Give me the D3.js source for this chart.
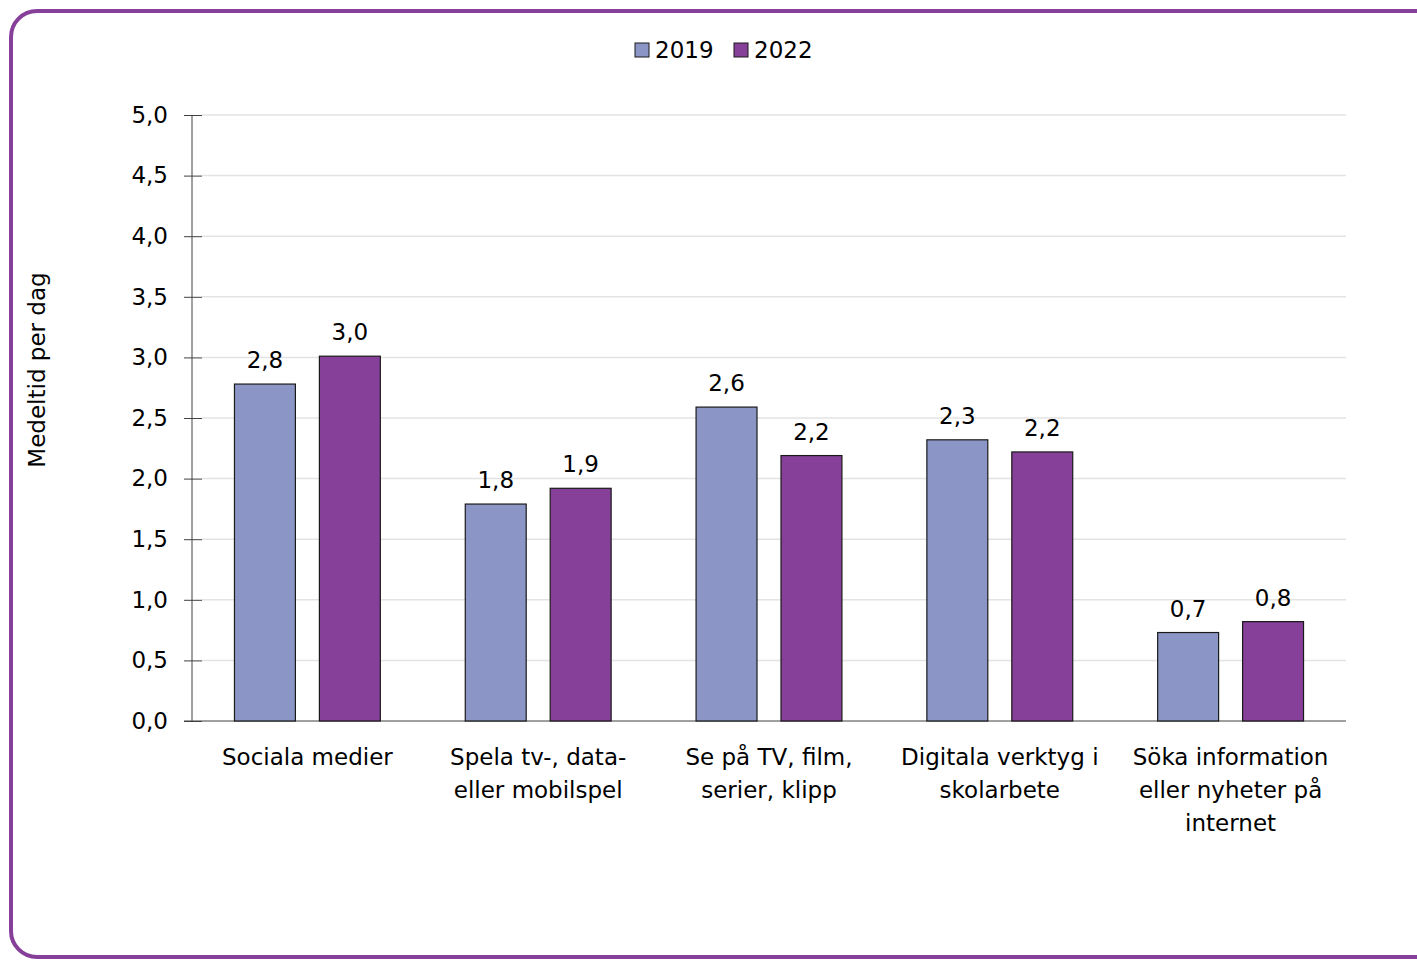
<!DOCTYPE html>
<html>
<head>
<meta charset="utf-8">
<script src="https://cdn.jsdelivr.net/npm/d3@7"></script>
<style>
	body { margin: 0; background: #fff; }
	svg { display: block; }
	svg text { font-family: "DejaVu Sans", Verdana, sans-serif; font-size: 23px; fill: #000; }
	.grid line { stroke: #e3e3e3; stroke-width: 1.5; }
	.axis path, .axis line { stroke: #404040; }
</style>
</head>
<body>
<svg id="chart"></svg>
<script>
const WIDTH = 1417
const HEIGHT = 961

const categories = [
	['Sociala medier'],
	['Spela tv-, data-', 'eller mobilspel'],
	['Se på TV, film,', 'serier, klipp'],
	['Digitala verktyg i', 'skolarbete'],
	['Söka information', 'eller nyheter på', 'internet'],
]
const series = ['2019', '2022']
const values2019 = [2.78, 1.79, 2.59, 2.32, 0.73]
const values2022 = [3.01, 1.92, 2.19, 2.22, 0.82]
const yTicks = [0, 0.5, 1, 1.5, 2, 2.5, 3, 3.5, 4, 4.5, 5]
const COLORS = ['#8b96c6', '#87409a']

const margin = { top: 115, right: 71, bottom: 240, left: 192 }
const chartWidth = WIDTH - margin.left - margin.right
const chartHeight = HEIGHT - margin.top - margin.bottom

const fmt = v => d3.format('.1f')(v).replace('.', ',')

function translate(x, y) {
	return `translate(${x}, ${y})`
}

const svg = d3.select('#chart')
	.attr('width', WIDTH)
	.attr('height', HEIGHT)

// frame
svg.append('rect')
	.attr('x', 11).attr('y', 11)
	.attr('width', WIDTH + 20).attr('height', 946)
	.attr('rx', 26)
	.style('fill', 'none')
	.style('stroke', '#87409a')
	.style('stroke-width', 4)

const g = svg.append('g').attr('transform', translate(margin.left, margin.top))

const scaleX = d3.scaleBand()
	.domain(d3.range(categories.length))
	.range([0, chartWidth])

const scaleY = d3.scaleLinear()
	.domain([0, 5])
	.range([chartHeight, 0])

const bw = scaleX.bandwidth()
const barW = bw * 0.264
const GAP = 24
const inner = d3.scaleBand()
	.domain(series)
	.range([bw / 2 - barW - GAP / 2, bw / 2 + barW + GAP / 2])
	.paddingInner(GAP / (barW + GAP))

// grid
g.append('g').attr('class', 'grid')
	.selectAll('line')
	.data(yTicks.slice(1))
	.join('line')
	.attr('x1', 10).attr('x2', chartWidth)
	.attr('y1', d => scaleY(d)).attr('y2', d => scaleY(d))

// y axis
const axisY = g.append('g').attr('class', 'axis axis--y')
	.call(d3.axisLeft(scaleY).tickValues(yTicks).tickFormat(fmt).tickSize(8).tickSizeOuter(0))
axisY.attr('font-size', null).attr('font-family', null)
axisY.selectAll('.tick line').attr('x2', 10).attr('x1', -8)
axisY.selectAll('text').attr('x', -24).attr('fill', null)
axisY.select('.domain').attr('d', `M0,0V${chartHeight}`)

// baseline
g.append('line')
	.attr('x1', -8).attr('x2', chartWidth)
	.attr('y1', chartHeight).attr('y2', chartHeight)
	.style('stroke', '#404040')

// bars
const data = categories.map((c, i) => ({
	index: i,
	vals: [
		{ key: '2019', value: values2019[i], color: COLORS[0] },
		{ key: '2022', value: values2022[i], color: COLORS[1] },
	],
}))

const group = g.selectAll('.cat')
	.data(data)
	.join('g')
	.attr('class', 'cat')
	.attr('transform', d => translate(scaleX(d.index), 0))

group.selectAll('rect')
	.data(d => d.vals)
	.join('rect')
	.attr('x', d => inner(d.key))
	.attr('width', inner.bandwidth())
	.attr('y', d => scaleY(d.value))
	.attr('height', d => chartHeight - scaleY(d.value))
	.style('fill', d => d.color)
	.style('stroke', '#1a1a1a')
	.style('stroke-width', 1.2)

group.selectAll('.value')
	.data(d => d.vals)
	.join('text')
	.attr('class', 'value')
	.attr('x', d => inner(d.key) + inner.bandwidth() / 2)
	.attr('y', d => scaleY(d.value) - 16)
	.attr('text-anchor', 'middle')
	.text(d => fmt(d.value))

// category labels
group.append('text')
	.attr('text-anchor', 'middle')
	.selectAll('tspan')
	.data(d => categories[d.index])
	.join('tspan')
	.attr('x', bw / 2)
	.attr('y', (d, i) => chartHeight + 44 + i * 33)
	.text(d => d)

// y title
svg.append('text')
	.attr('transform', `${translate(45, 370)} rotate(-90)`)
	.attr('text-anchor', 'middle')
	.text('Medeltid per dag')

// legend
const legend = svg.append('g').attr('transform', translate(635, 50))
const item = legend.selectAll('g')
	.data(series)
	.join('g')
	.attr('transform', (d, i) => translate(i * 99, 0))
item.append('rect')
	.attr('x', 0).attr('y', -7)
	.attr('width', 14).attr('height', 14)
	.style('fill', (d, i) => COLORS[i])
	.style('stroke', '#1a1a1a')
item.append('text')
	.attr('x', 20).attr('y', 8)
	.text(d => d)
</script>
</body>
</html>
